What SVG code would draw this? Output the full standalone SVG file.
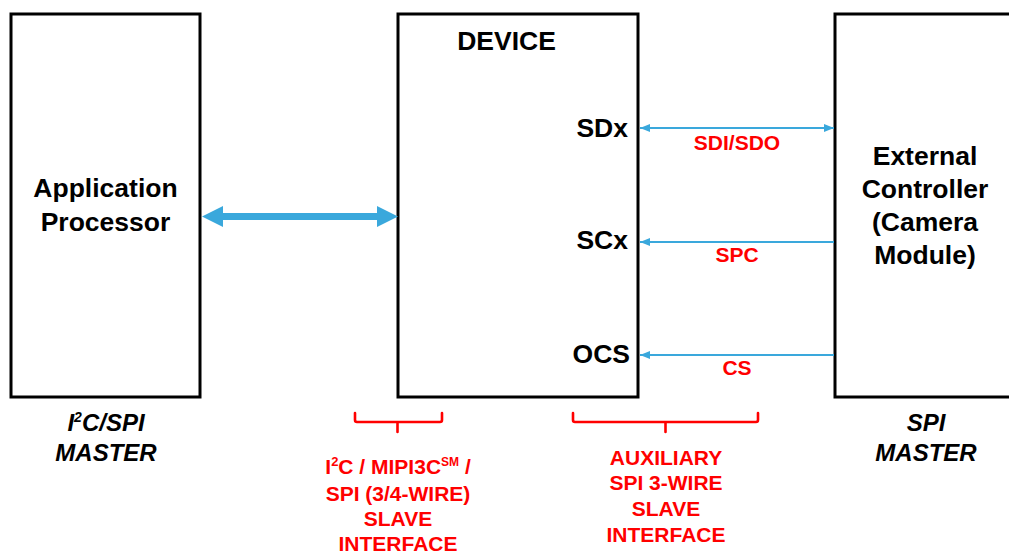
<svg xmlns="http://www.w3.org/2000/svg" width="1009" height="553" viewBox="0 0 1009 553">
<style>
.box{fill:#fff;stroke:#000;stroke-width:3}
.t{font-family:"Liberation Sans",Arial,sans-serif;font-weight:bold;font-size:26.5px;fill:#000;text-anchor:middle}
.e{text-anchor:end}
.m{font-family:"Liberation Sans",Arial,sans-serif;font-weight:bold;font-style:italic;font-size:24px;fill:#000;text-anchor:middle}
.r{font-family:"Liberation Sans",Arial,sans-serif;font-weight:bold;font-size:21px;fill:#ff0000;text-anchor:middle}
.w{stroke:#3aa8dc;stroke-width:2.2;fill:none}
.br{stroke:#ff0000;stroke-width:2.6;fill:none;stroke-linejoin:round;stroke-linecap:round}
</style>
<defs>
<marker id="ah" viewBox="0 0 10 8" refX="10" refY="4" markerWidth="10" markerHeight="8" markerUnits="userSpaceOnUse" orient="auto-start-reverse">
<path d="M0,0 L10,4 L0,8 z" fill="#3aa8dc"/>
</marker>
</defs>
<g id="app-processor">
<rect class="box" x="11" y="14" width="189" height="383"/>
<text class="t" x="105.5" y="197">Application</text>
<text class="t" x="105.5" y="231">Processor</text>
</g>
<g id="device">
<rect class="box" x="398" y="14" width="240" height="383"/>
<text class="t" x="506.5" y="50">DEVICE</text>
<text class="t e" x="628" y="137">SDx</text>
<text class="t e" x="628" y="249">SCx</text>
<text class="t e" x="630" y="363">OCS</text>
</g>
<g id="external-controller">
<rect class="box" x="835" y="14" width="200" height="383"/>
<text class="t" x="925" y="165">External</text>
<text class="t" x="925" y="198">Controller</text>
<text class="t" x="925" y="231">(Camera</text>
<text class="t" x="925" y="264">Module)</text>
</g>
<g id="connectors">
<path d="M202,216.5 L223,206 L223,213 L377,213 L377,206 L398,216.5 L377,227 L377,220 L223,220 L223,227 Z" fill="#3aa8dc"/>
<line class="w" x1="640" y1="128" x2="834" y2="128" marker-start="url(#ah)" marker-end="url(#ah)"/>
<line class="w" x1="834" y1="242" x2="640" y2="242" marker-end="url(#ah)"/>
<line class="w" x1="834" y1="355" x2="640" y2="355" marker-end="url(#ah)"/>
<text class="r" x="737" y="150">SDI/SDO</text>
<text class="r" x="737" y="262">SPC</text>
<text class="r" x="737" y="375">CS</text>
</g>
<g id="labels">
<text class="m" x="106" y="431">I<tspan font-size="14" dy="-9">2</tspan><tspan dy="9">C/SPI</tspan></text>
<text class="m" x="106" y="461">MASTER</text>
<text class="m" x="926" y="431">SPI</text>
<text class="m" x="926" y="461">MASTER</text>
</g>
<g id="bracket-main">
<path class="br" d="M355,413 L355,420 Q355,422 357,422 L440,422 Q442,422 442,420 L442,413 M397.5,422 L397.5,432"/>
<text class="r" x="398" y="474">I<tspan font-size="13" dy="-8">2</tspan><tspan dy="8">C / MIPI3C</tspan><tspan font-size="12" dy="-8">SM</tspan><tspan dy="8"> /</tspan></text>
<text class="r" x="398" y="501">SPI (3/4-WIRE)</text>
<text class="r" x="398" y="526">SLAVE</text>
<text class="r" x="398" y="551">INTERFACE</text>
</g>
<g id="bracket-aux">
<path class="br" d="M573,413 L573,420 Q573,422 575,422 L756,422 Q758,422 758,420 L758,413 M665.5,422 L665.5,432"/>
<text class="r" x="666" y="465">AUXILIARY</text>
<text class="r" x="666" y="490">SPI 3-WIRE</text>
<text class="r" x="666" y="516">SLAVE</text>
<text class="r" x="666" y="542">INTERFACE</text>
</g>
</svg>
